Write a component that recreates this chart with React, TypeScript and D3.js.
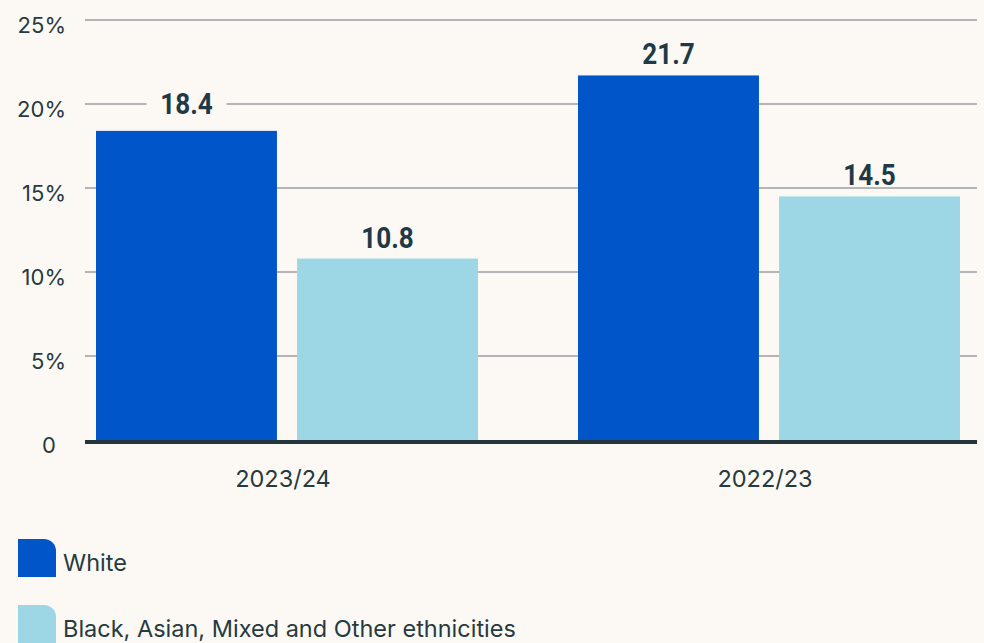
import React, { useEffect } from "react";
import * as d3 from "d3";

const categories = ["2023/24", "2022/23"];
const seriesNames = ["White", "Black, Asian, Mixed and Other ethnicities"];
const whiteValues = [18.4, 21.7];
const otherValues = [10.8, 14.5];
const yTicks = [0, 5, 10, 15, 20, 25];
const tickLabels = ["0", "5%", "10%", "15%", "20%", "25%"];

const W = 984;
const H = 643;
const BG = "#fcf9f5";
const colors = ["#0055c8", "#9dd7e5"];
const TEXT = "#263a40";
const LABEL = "#1f3a46";

export default function App() {
  useEffect(() => {
    document.body.style.margin = "0";
    document.body.style.background = BG;
  }, []);

  const y = d3.scaleLinear().domain([0, 25]).range([440, 20]);
  const x0 = d3.scaleBand().domain(categories).range([46, 1010]).paddingInner(0).paddingOuter(0);
  const x1 = d3.scaleBand().domain(seriesNames).range([50, 432]).paddingInner(0.1).paddingOuter(0);
  const series = [whiteValues, otherValues];

  const gridYs = yTicks.filter((t) => t > 0).map((t) => y(t));

  const labels: { x: number; yb: number; text: string }[] = [];
  categories.forEach((c, ci) => {
    series.forEach((vals, si) => {
      const v = vals[ci];
      const cx = (x0(c) as number) + (x1(seriesNames[si]) as number) + x1.bandwidth() / 2;
      let yb = y(v) - 11;
      const top = yb - 22;
      const hit = gridYs.find((g) => g >= top - 2 && g <= yb + 2);
      if (hit !== undefined) yb = hit + 10;
      labels.push({ x: cx, yb, text: d3.format(".1f")(v) });
    });
  });

  return (
    <svg width={W} height={H} style={{ position: "absolute", left: 0, top: 0, background: BG }} fontFamily="Inter, 'Noto Sans', sans-serif">
      <rect x={0} y={0} width={W} height={H} fill={BG} />
      {yTicks.map((t, i) => (
        <g key={t}>
          {t > 0 && <line x1={85} x2={977} y1={y(t)} y2={y(t)} stroke="#b3b5b6" strokeWidth={2} />}
          <text
            x={t === 0 ? 56 : 66}
            y={y(t) + 5}
            dy="0.35em"
            textAnchor="end"
            fontSize={22}
            fill={TEXT}
          >
            {tickLabels[i]}
          </text>
        </g>
      ))}
      {categories.map((c, ci) => (
        <g key={c} transform={`translate(${x0(c)},0)`}>
          {series.map((vals, si) => (
            <rect
              key={si}
              x={x1(seriesNames[si])}
              y={y(vals[ci])}
              width={x1.bandwidth()}
              height={y(0) - y(vals[ci])}
              fill={colors[si]}
            />
          ))}
          <text x={50 + (432 - 50) / 2 - 4} y={487} textAnchor="middle" fontSize={23.5} fill={TEXT}>
            {c}
          </text>
        </g>
      ))}
      <rect x={85} y={440} width={892} height={4} fill="#23363b" />
      {labels.map((l, i) => (
        <g key={i}>
          <rect x={l.x - 40} y={l.yb - 14} width={80} height={6} fill={BG} />
          <text
            x={l.x}
            y={l.yb}
            textAnchor="middle"
            fontFamily="Roboto, sans-serif"
            fontWeight={700}
            fontSize={29}
            fill={LABEL}
            transform={`translate(${l.x},0) scale(0.9,1) translate(${-l.x},0)`}
          >
            {l.text}
          </text>
        </g>
      ))}
      {seriesNames.map((s, i) => {
        const ty = 539 + i * 66;
        return (
          <g key={s} transform={`translate(18,${ty})`}>
            <path d="M0,0 H26 A12,12 0 0 1 38,12 V38 H0 Z" fill={colors[i]} />
            <text x={45} y={32} fontSize={23.5} fill={TEXT}>
              {s}
            </text>
          </g>
        );
      })}
    </svg>
  );
}
